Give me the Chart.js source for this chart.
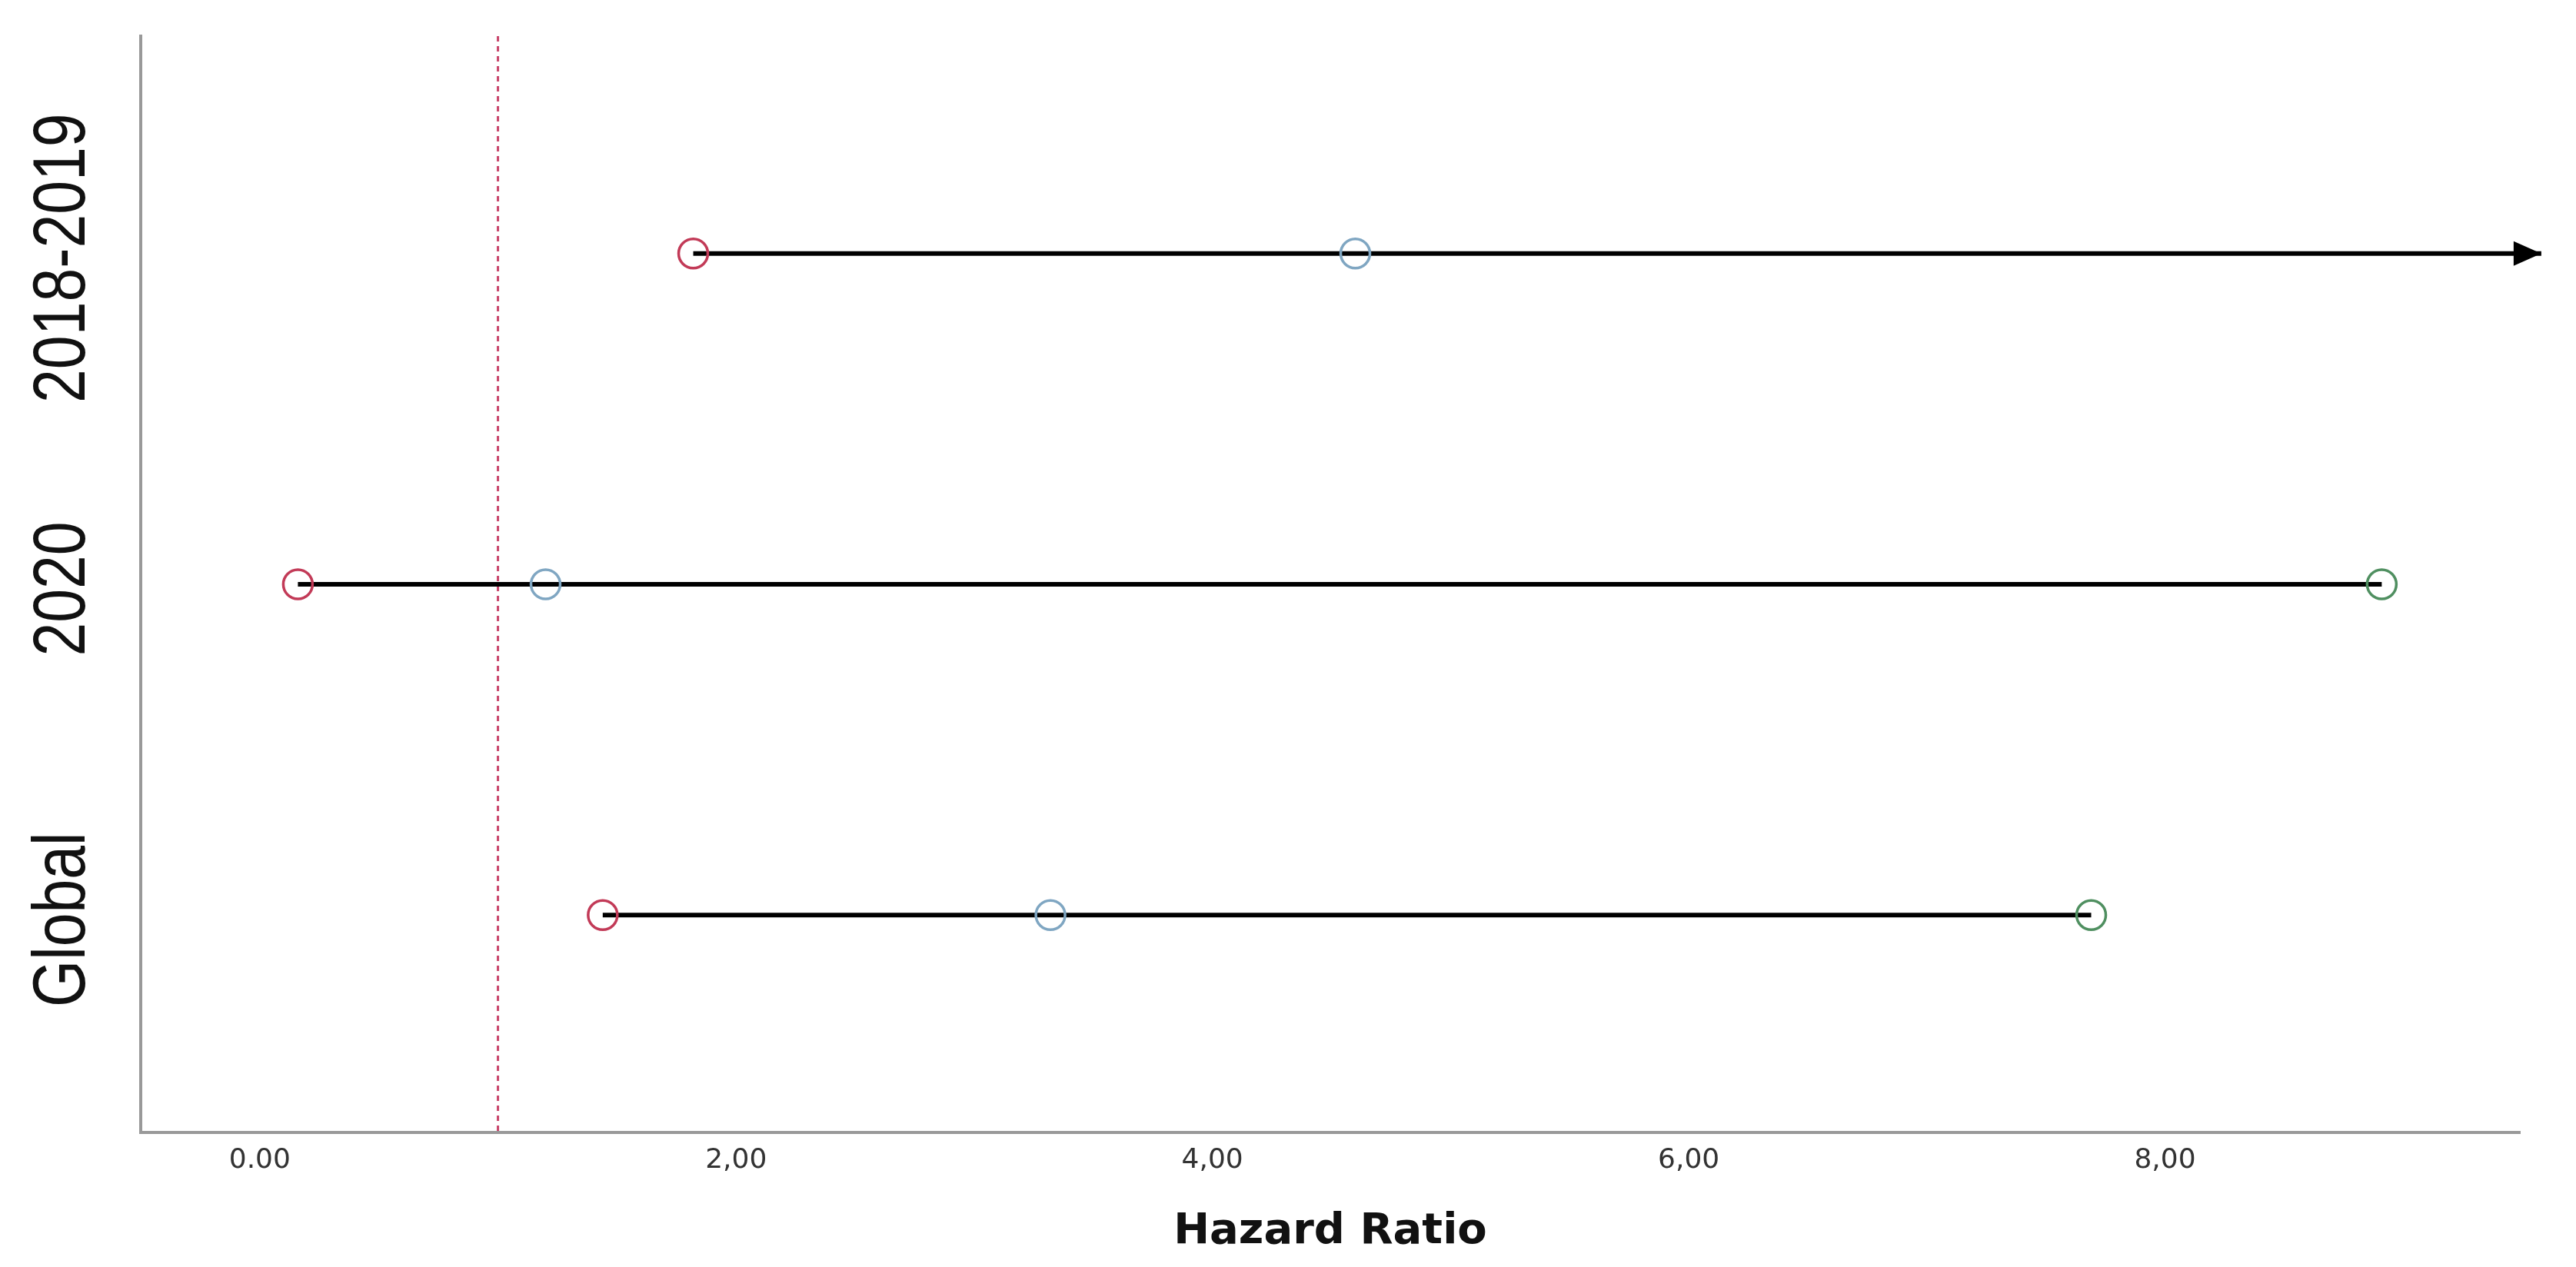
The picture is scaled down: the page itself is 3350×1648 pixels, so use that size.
<!DOCTYPE html>
<html>
<head>
<meta charset="utf-8">
<script src="https://cdn.jsdelivr.net/npm/chart.js@4/dist/chart.umd.min.js"></script>
<style>
  html, body { margin: 0; padding: 0; background: #fff; }
  #wrap { width: 3350px; height: 1648px; }
</style>
</head>
<body>
<div id="wrap"><canvas id="chart" width="3350" height="1648"></canvas></div>
<script>
// rows, top to bottom
const categories = ['2018-2019', '2020', 'Global'];
const lowerCI = [1.82, 0.16, 1.44];
const hazardRatio = [4.60, 1.20, 3.32];
const upperCI = [null, 8.91, 7.69]; // null = upper limit is off the scale (arrow)
const arrowEnd = 9.58;

const xTicks = [0, 2, 4, 6, 8];
const xTickLabels = ['0.00', '2,00', '4,00', '6,00', '8,00'];
const referenceHR = 1;

const colors = { lower: '#c23a57', hr: '#7fa6c2', upper: '#4f8f60' };

function hasFont(name) {
  const c = document.createElement('canvas').getContext('2d');
  c.font = '72px monospace';
  const a = c.measureText('2018-2019 Global').width;
  c.font = `72px '${name}', monospace`;
  const b = c.measureText('2018-2019 Global').width;
  return a !== b;
}

// CI lines
const lineSets = categories.map((cat, i) => ({
  label: cat,
  data: [{ x: lowerCI[i], y: i }, { x: upperCI[i] ?? arrowEnd, y: i }],
  showLine: true,
  borderColor: '#000',
  borderWidth: 6,
  pointRadius: 0,
  clip: false,
  order: 2
}));

function markerSet(name, values, color) {
  return {
    label: name,
    data: values.map((v, i) => (v == null ? null : { x: v, y: i })).filter(p => p),
    pointStyle: 'circle',
    pointRadius: 19,
    pointBorderWidth: 3.5,
    borderColor: color,
    backgroundColor: 'rgba(0,0,0,0)',
    showLine: false,
    order: 1
  };
}

const refLinePlugin = {
  id: 'refLine',
  beforeDatasetsDraw(chart) {
    const { ctx, chartArea, scales: { x } } = chart;
    const px = x.getPixelForValue(referenceHR);
    ctx.save();
    ctx.strokeStyle = '#c8456b';
    ctx.lineWidth = 3;
    ctx.setLineDash([7, 6]);
    ctx.beginPath();
    ctx.moveTo(px, chartArea.top);
    ctx.lineTo(px, chartArea.bottom);
    ctx.stroke();
    ctx.restore();
  }
};

const arrowPlugin = {
  id: 'arrows',
  afterDatasetsDraw(chart) {
    const { ctx, scales: { x, y } } = chart;
    ctx.save();
    ctx.fillStyle = '#000';
    upperCI.forEach((v, i) => {
      if (v != null) return;
      const tip = x.getPixelForValue(arrowEnd);
      const py = y.getPixelForValue(i);
      ctx.beginPath();
      ctx.moveTo(tip, py);
      ctx.lineTo(tip - 36, py - 16);
      ctx.lineTo(tip - 36, py + 16);
      ctx.closePath();
      ctx.fill();
    });
    ctx.restore();
  }
};

const rowLabelPlugin = {
  id: 'rowLabels',
  afterDraw(chart) {
    const { ctx, scales: { y } } = chart;
    const narrow = hasFont('Liberation Sans Narrow');
    ctx.save();
    ctx.font = narrow ? "96px 'Liberation Sans Narrow'" : "96px 'Liberation Sans', Arial";
    ctx.fillStyle = '#111';
    ctx.textAlign = 'center';
    ctx.textBaseline = 'middle';
    categories.forEach((cat, i) => {
      ctx.save();
      ctx.translate(84, y.getPixelForValue(i) + 6);
      ctx.rotate(-Math.PI / 2);
      if (!narrow) ctx.scale(0.82, 1);
      ctx.fillText(cat, 0, 0);
      ctx.restore();
    });
    ctx.restore();
  }
};

new Chart(document.getElementById('chart'), {
  type: 'scatter',
  data: {
    datasets: [
      ...lineSets,
      markerSet('Lower', lowerCI, colors.lower),
      markerSet('HR', hazardRatio, colors.hr),
      markerSet('Upper', upperCI, colors.upper)
    ]
  },
  options: {
    responsive: false,
    animation: false,
    layout: { padding: { top: 47, right: 73, left: 0, bottom: 0 } },
    plugins: {
      legend: { display: false },
      tooltip: { enabled: false }
    },
    scales: {
      x: {
        type: 'linear',
        min: -0.5,
        max: 9.49,
        afterBuildTicks: (scale) => { scale.ticks = xTicks.map(v => ({ value: v })); },
        afterFit: (scale) => { scale.height = 175; },
        ticks: {
          color: '#333',
          font: { family: 'DejaVu Sans', size: 36 },
          padding: 15,
          callback: (v) => xTickLabels[xTicks.indexOf(v)]
        },
        grid: { display: false, drawTicks: false },
        border: { display: true, color: '#999', width: 4 },
        title: {
          display: true,
          text: 'Hazard Ratio',
          color: '#111',
          font: { family: 'DejaVu Sans', size: 56, weight: 'bold' },
          padding: { top: 0, bottom: 12 }
        }
      },
      y: {
        type: 'linear',
        reverse: true,
        min: -0.657,
        max: 2.657,
        afterBuildTicks: (scale) => { scale.ticks = categories.map((c, i) => ({ value: i })); },
        afterFit: (scale) => { scale.width = 183; },
        ticks: { display: false },
        grid: { display: false, drawTicks: false },
        border: { display: true, color: '#999', width: 4 }
      }
    }
  },
  plugins: [refLinePlugin, arrowPlugin, rowLabelPlugin]
});
</script>
</body>
</html>
